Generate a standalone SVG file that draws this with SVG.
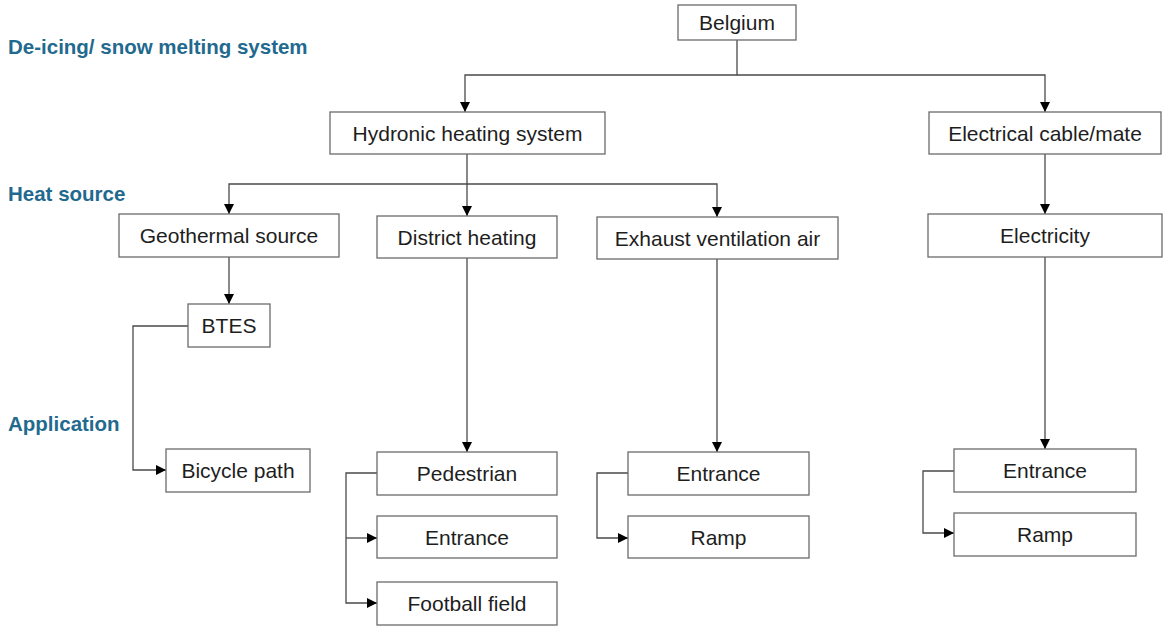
<svg xmlns="http://www.w3.org/2000/svg" width="1165" height="628" viewBox="0 0 1165 628">
<style>
.box{fill:#fff;stroke:#6b6b6b;stroke-width:1.3}
.t{font-family:"Liberation Sans",Arial,sans-serif;font-size:21px;fill:#1e1e1e;text-anchor:middle;dominant-baseline:central}
.h{font-family:"Liberation Sans",Arial,sans-serif;font-size:20.5px;font-weight:bold;fill:#1f6a8e}
.c{fill:none;stroke:#4a4a4a;stroke-width:1.3}
</style>
<defs>
<marker id="a" viewBox="0 0 10 10" refX="10" refY="5" markerWidth="10" markerHeight="10" markerUnits="userSpaceOnUse" orient="auto">
<path d="M0,0 L10,5 L0,10 Z" fill="#000"/>
</marker>
</defs>
<rect width="1165" height="628" fill="#fff"/>
<g id="labels">
<text class="h" x="8" y="54">De-icing/ snow melting system</text>
<text class="h" x="8" y="201">Heat source</text>
<text class="h" x="8" y="431">Application</text>
</g>
<g id="connectors">
<path class="c" d="M737,40 V75 H465 V112" marker-end="url(#a)"/>
<path class="c" d="M737,75 H1045 V112" marker-end="url(#a)"/>
<path class="c" d="M467,154 V184 H229 V214" marker-end="url(#a)"/>
<path class="c" d="M467,184 V216" marker-end="url(#a)"/>
<path class="c" d="M467,184 H717 V217" marker-end="url(#a)"/>
<path class="c" d="M1045,154 V214" marker-end="url(#a)"/>
<path class="c" d="M229,257 V304" marker-end="url(#a)"/>
<path class="c" d="M188,326 H133 V470 H166" marker-end="url(#a)"/>
<path class="c" d="M467,258 V452" marker-end="url(#a)"/>
<path class="c" d="M717,259 V452" marker-end="url(#a)"/>
<path class="c" d="M1045,257 V449" marker-end="url(#a)"/>
<path class="c" d="M377,473 H346 V603 H377" marker-end="url(#a)"/>
<path class="c" d="M346,538 H377" marker-end="url(#a)"/>
<path class="c" d="M628,473 H597 V538 H628" marker-end="url(#a)"/>
<path class="c" d="M954,471 H923 V533 H954" marker-end="url(#a)"/>
</g>
<g id="belgium"><rect class="box" x="678" y="5" width="118" height="35"/><text class="t" x="737" y="22.5">Belgium</text></g>
<g id="hydronic"><rect class="box" x="330" y="112" width="275" height="42"/><text class="t" x="467.5" y="133">Hydronic heating system</text></g>
<g id="electrical"><rect class="box" x="929" y="112" width="232" height="42"/><text class="t" x="1045" y="133">Electrical cable/mate</text></g>
<g id="geothermal"><rect class="box" x="119" y="214" width="220" height="43"/><text class="t" x="229" y="235.5">Geothermal source</text></g>
<g id="district"><rect class="box" x="377" y="216" width="180" height="42"/><text class="t" x="467" y="237">District heating</text></g>
<g id="exhaust"><rect class="box" x="597" y="217" width="241" height="42"/><text class="t" x="717.5" y="238">Exhaust ventilation air</text></g>
<g id="electricity"><rect class="box" x="928" y="214" width="234" height="43"/><text class="t" x="1045" y="235.5">Electricity</text></g>
<g id="btes"><rect class="box" x="188" y="304" width="82" height="43"/><text class="t" x="229" y="325.5">BTES</text></g>
<g id="bicycle"><rect class="box" x="166" y="449" width="144" height="43"/><text class="t" x="238" y="470.5">Bicycle path</text></g>
<g id="pedestrian"><rect class="box" x="377" y="452" width="180" height="43"/><text class="t" x="467" y="473.5">Pedestrian</text></g>
<g id="entrance1"><rect class="box" x="377" y="516" width="180" height="42"/><text class="t" x="467" y="537">Entrance</text></g>
<g id="football"><rect class="box" x="377" y="582" width="180" height="43"/><text class="t" x="467" y="603.5">Football field</text></g>
<g id="entrance2"><rect class="box" x="628" y="452" width="181" height="43"/><text class="t" x="718.5" y="473.5">Entrance</text></g>
<g id="ramp2"><rect class="box" x="628" y="516" width="181" height="42"/><text class="t" x="718.5" y="537">Ramp</text></g>
<g id="entrance3"><rect class="box" x="954" y="449" width="182" height="43"/><text class="t" x="1045" y="470.5">Entrance</text></g>
<g id="ramp3"><rect class="box" x="954" y="513" width="182" height="43"/><text class="t" x="1045" y="534.5">Ramp</text></g>
</svg>
